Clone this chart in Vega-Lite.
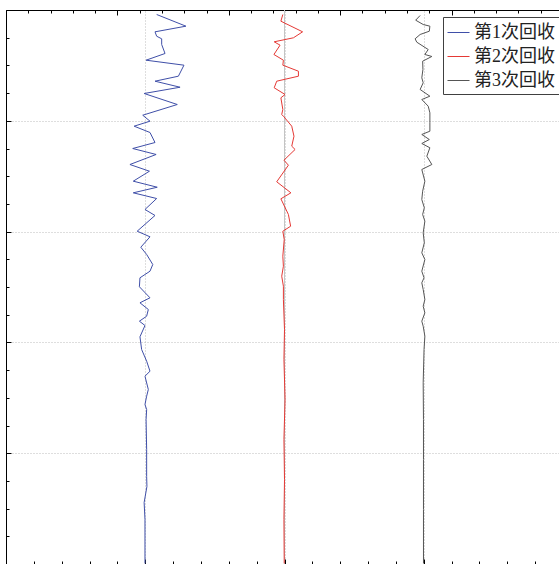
{
  "$schema": "https://vega.github.io/schema/vega-lite/v6.json",
  "autosize": {"type": "none"},
  "padding": {"left": 6, "top": 10, "right": 0, "bottom": 0},
  "width": 553,
  "height": 554,
  "background": "white",
  "view": {"stroke": null},
  "datasets": {
    "ref": [{"value": 10}],
    "traces": [
      {"series": "第1次回收", "depth": 0.81, "value": 5.41},
      {"series": "第1次回收", "depth": 2.92, "value": 6.46},
      {"series": "第1次回收", "depth": 3.94, "value": 5.35},
      {"series": "第1次回收", "depth": 4.73, "value": 5.41},
      {"series": "第1次回收", "depth": 5.20, "value": 5.59},
      {"series": "第1次回收", "depth": 6.23, "value": 5.59},
      {"series": "第1次回收", "depth": 7.85, "value": 5.71},
      {"series": "第1次回收", "depth": 9.06, "value": 5.03},
      {"series": "第1次回收", "depth": 9.96, "value": 6.39},
      {"series": "第1次回收", "depth": 11.95, "value": 6.19},
      {"series": "第1次回收", "depth": 12.85, "value": 5.35},
      {"series": "第1次回收", "depth": 13.94, "value": 6.25},
      {"series": "第1次回收", "depth": 15.07, "value": 4.96},
      {"series": "第1次回收", "depth": 17.06, "value": 6.15},
      {"series": "第1次回收", "depth": 18.99, "value": 4.91},
      {"series": "第1次回收", "depth": 20.07, "value": 5.17},
      {"series": "第1次回收", "depth": 20.97, "value": 4.60},
      {"series": "第1次回收", "depth": 22.11, "value": 5.17},
      {"series": "第1次回收", "depth": 23.92, "value": 5.35},
      {"series": "第1次回收", "depth": 25.00, "value": 4.55},
      {"series": "第1次回收", "depth": 26.08, "value": 5.39},
      {"series": "第1次回收", "depth": 27.89, "value": 4.45},
      {"series": "第1次回收", "depth": 29.10, "value": 5.15},
      {"series": "第1次回收", "depth": 30.90, "value": 4.57},
      {"series": "第1次回收", "depth": 31.99, "value": 5.43},
      {"series": "第1次回收", "depth": 33.00, "value": 4.57},
      {"series": "第1次回收", "depth": 34.03, "value": 5.41},
      {"series": "第1次回收", "depth": 36.01, "value": 4.99},
      {"series": "第1次回收", "depth": 37.09, "value": 5.35},
      {"series": "第1次回收", "depth": 39.93, "value": 4.71},
      {"series": "第1次回收", "depth": 40.94, "value": 5.17},
      {"series": "第1次回收", "depth": 42.82, "value": 4.84},
      {"series": "第1次回收", "depth": 44.13, "value": 5.05},
      {"series": "第1次回收", "depth": 45.94, "value": 5.27},
      {"series": "第1次回收", "depth": 47.15, "value": 5.17},
      {"series": "第1次回收", "depth": 48.34, "value": 4.81},
      {"series": "第1次回收", "depth": 49.96, "value": 4.79},
      {"series": "第1次回收", "depth": 51.95, "value": 5.17},
      {"series": "第1次回收", "depth": 52.85, "value": 4.81},
      {"series": "第1次回收", "depth": 54.06, "value": 5.11},
      {"series": "第1次回收", "depth": 55.27, "value": 5.05},
      {"series": "第1次回收", "depth": 56.17, "value": 4.79},
      {"series": "第1次回收", "depth": 56.95, "value": 4.99},
      {"series": "第1次回收", "depth": 58.99, "value": 4.81},
      {"series": "第1次回收", "depth": 61.28, "value": 4.87},
      {"series": "第1次回收", "depth": 63.39, "value": 5.05},
      {"series": "第1次回收", "depth": 65.20, "value": 5.17},
      {"series": "第1次回收", "depth": 66.10, "value": 4.99},
      {"series": "第1次回收", "depth": 68.50, "value": 5.11},
      {"series": "第1次回收", "depth": 69.71, "value": 5.05},
      {"series": "第1次回收", "depth": 71.21, "value": 4.99},
      {"series": "第1次回收", "depth": 72.11, "value": 5.05},
      {"series": "第1次回收", "depth": 73.92, "value": 5.03},
      {"series": "第1次回收", "depth": 79.33, "value": 5.05},
      {"series": "第1次回收", "depth": 84.21, "value": 5.05},
      {"series": "第1次回收", "depth": 86.01, "value": 5.06},
      {"series": "第1次回收", "depth": 88.90, "value": 4.96},
      {"series": "第1次回收", "depth": 91.97, "value": 4.99},
      {"series": "第1次回收", "depth": 99.91, "value": 4.99},
      {"series": "第2次回收", "depth": 0.81, "value": 9.94},
      {"series": "第2次回收", "depth": 2.02, "value": 9.87},
      {"series": "第2次回收", "depth": 3.94, "value": 10.65},
      {"series": "第2次回收", "depth": 5.02, "value": 10.32},
      {"series": "第2次回收", "depth": 5.74, "value": 9.63},
      {"series": "第2次回收", "depth": 6.35, "value": 9.84},
      {"series": "第2次回收", "depth": 8.03, "value": 9.62},
      {"series": "第2次回收", "depth": 9.06, "value": 9.96},
      {"series": "第2次回收", "depth": 9.96, "value": 9.94},
      {"series": "第2次回收", "depth": 11.05, "value": 10.50},
      {"series": "第2次回收", "depth": 11.95, "value": 10.50},
      {"series": "第2次回收", "depth": 12.85, "value": 9.72},
      {"series": "第2次回收", "depth": 14.04, "value": 9.63},
      {"series": "第2次回收", "depth": 15.25, "value": 10.02},
      {"series": "第2次回收", "depth": 15.85, "value": 9.87},
      {"series": "第2次回收", "depth": 17.96, "value": 9.94},
      {"series": "第2次回收", "depth": 18.86, "value": 9.90},
      {"series": "第2次回收", "depth": 19.28, "value": 9.98},
      {"series": "第2次回收", "depth": 20.97, "value": 10.26},
      {"series": "第2次回收", "depth": 22.78, "value": 10.34},
      {"series": "第2次回收", "depth": 24.58, "value": 10.26},
      {"series": "第2次回收", "depth": 25.18, "value": 10.38},
      {"series": "第2次回收", "depth": 27.11, "value": 9.98},
      {"series": "第2次回收", "depth": 28.01, "value": 10.14},
      {"series": "第2次回收", "depth": 31.01, "value": 9.72},
      {"series": "第2次回收", "depth": 33.00, "value": 10.23},
      {"series": "第2次回收", "depth": 34.08, "value": 9.87},
      {"series": "第2次回收", "depth": 36.91, "value": 10.14},
      {"series": "第2次回收", "depth": 39.03, "value": 10.22},
      {"series": "第2次回收", "depth": 39.93, "value": 9.94},
      {"series": "第2次回收", "depth": 41.43, "value": 9.99},
      {"series": "第2次回收", "depth": 44.44, "value": 9.94},
      {"series": "第2次回收", "depth": 46.25, "value": 9.96},
      {"series": "第2次回收", "depth": 48.05, "value": 9.90},
      {"series": "第2次回收", "depth": 49.86, "value": 9.96},
      {"series": "第2次回收", "depth": 52.26, "value": 9.96},
      {"series": "第2次回收", "depth": 57.67, "value": 10.00},
      {"series": "第2次回收", "depth": 63.09, "value": 9.98},
      {"series": "第2次回收", "depth": 70.31, "value": 10.02},
      {"series": "第2次回收", "depth": 77.53, "value": 9.98},
      {"series": "第2次回收", "depth": 84.75, "value": 10.00},
      {"series": "第2次回收", "depth": 91.97, "value": 9.98},
      {"series": "第2次回收", "depth": 99.91, "value": 9.99},
      {"series": "第3次回收", "depth": 0.99, "value": 14.87},
      {"series": "第3次回收", "depth": 1.84, "value": 14.71},
      {"series": "第3次回收", "depth": 2.62, "value": 14.98},
      {"series": "第3次回收", "depth": 2.92, "value": 15.22},
      {"series": "第3次回收", "depth": 3.83, "value": 15.20},
      {"series": "第3次回收", "depth": 4.42, "value": 14.87},
      {"series": "第3次回收", "depth": 5.20, "value": 14.69},
      {"series": "第3次回收", "depth": 5.81, "value": 14.75},
      {"series": "第3次回收", "depth": 7.13, "value": 15.16},
      {"series": "第3次回收", "depth": 8.03, "value": 15.04},
      {"series": "第3次回收", "depth": 8.39, "value": 15.29},
      {"series": "第3次回收", "depth": 9.24, "value": 14.96},
      {"series": "第3次回收", "depth": 10.74, "value": 14.97},
      {"series": "第3次回收", "depth": 12.24, "value": 14.93},
      {"series": "第3次回收", "depth": 13.14, "value": 14.98},
      {"series": "第3次回收", "depth": 14.35, "value": 14.87},
      {"series": "第3次回收", "depth": 15.56, "value": 15.22},
      {"series": "第3次回收", "depth": 16.16, "value": 14.93},
      {"series": "第3次回收", "depth": 17.36, "value": 15.16},
      {"series": "第3次回收", "depth": 18.56, "value": 15.22},
      {"series": "第3次回收", "depth": 20.36, "value": 15.22},
      {"series": "第3次回收", "depth": 21.88, "value": 15.22},
      {"series": "第3次回收", "depth": 22.47, "value": 14.93},
      {"series": "第3次回收", "depth": 23.38, "value": 15.20},
      {"series": "第3次回收", "depth": 24.10, "value": 14.93},
      {"series": "第3次回收", "depth": 24.87, "value": 15.22},
      {"series": "第3次回收", "depth": 26.39, "value": 15.11},
      {"series": "第3次回收", "depth": 27.89, "value": 15.29},
      {"series": "第3次回收", "depth": 28.79, "value": 14.93},
      {"series": "第3次回收", "depth": 30.90, "value": 15.04},
      {"series": "第3次回收", "depth": 32.71, "value": 14.96},
      {"series": "第3次回收", "depth": 34.21, "value": 14.93},
      {"series": "第3次回收", "depth": 35.70, "value": 15.02},
      {"series": "第3次回收", "depth": 36.91, "value": 14.96},
      {"series": "第3次回收", "depth": 38.12, "value": 15.04},
      {"series": "第3次回收", "depth": 40.22, "value": 14.98},
      {"series": "第3次回收", "depth": 42.02, "value": 15.02},
      {"series": "第3次回收", "depth": 43.83, "value": 14.93},
      {"series": "第3次回收", "depth": 45.04, "value": 15.04},
      {"series": "第3次回收", "depth": 47.15, "value": 14.93},
      {"series": "第3次回收", "depth": 48.34, "value": 15.01},
      {"series": "第3次回收", "depth": 49.24, "value": 14.93},
      {"series": "第3次回收", "depth": 50.45, "value": 14.98},
      {"series": "第3次回收", "depth": 52.26, "value": 15.04},
      {"series": "第3次回收", "depth": 53.47, "value": 14.98},
      {"series": "第3次回收", "depth": 54.66, "value": 15.04},
      {"series": "第3次回收", "depth": 56.17, "value": 14.93},
      {"series": "第3次回收", "depth": 57.08, "value": 14.98},
      {"series": "第3次回收", "depth": 58.88, "value": 15.04},
      {"series": "第3次回收", "depth": 61.28, "value": 15.01},
      {"series": "第3次回收", "depth": 67.29, "value": 14.98},
      {"series": "第3次回收", "depth": 73.92, "value": 14.99},
      {"series": "第3次回收", "depth": 81.14, "value": 14.99},
      {"series": "第3次回收", "depth": 90.16, "value": 14.99},
      {"series": "第3次回收", "depth": 99.91, "value": 14.99}
    ]
  },
  "resolve": {"axis": {"x": "independent"}},
  "layer": [
    {
      "data": {"name": "ref"},
      "mark": {"type": "rule", "color": "#c4c4c4", "strokeWidth": 1},
      "encoding": {
        "x": {
          "field": "value",
          "type": "quantitative",
          "scale": {"domain": [0, 19.856], "nice": false, "zero": false},
          "axis": {
            "orient": "top",
            "title": null,
            "labels": false,
            "grid": false,
            "domain": true,
            "domainColor": "#000000",
            "domainWidth": 1,
            "ticks": true,
            "tickColor": "#000000",
            "tickWidth": 1,
            "values": [0, 0.8, 1.6, 2.4, 3.2, 4, 4.8, 5.6, 6.4, 7.2, 8, 8.8, 9.6, 10.4, 11.2, 12, 12.8, 13.6, 14.4, 15.2, 16, 16.8, 17.6, 18.4, 19.2],
            "tickSize": {"condition": {"test": "abs(datum.value/4 - round(datum.value/4)) < 0.001", "value": -5}, "value": -3}
          }
        }
      }
    },
    {
      "data": {"name": "traces"},
      "mark": {"type": "line", "strokeWidth": 1, "interpolate": "linear"},
      "encoding": {
        "x": {
          "field": "value",
          "type": "quantitative",
          "scale": {"domain": [0, 19.856], "nice": false, "zero": false},
          "axis": {
            "orient": "bottom",
            "title": null,
            "labels": false,
            "domain": true,
            "domainColor": "#000000",
            "ticks": true,
            "tickColor": "#000000",
            "tickWidth": 1,
            "values": [0, 1, 2, 3, 4, 5, 6, 7, 8, 9, 10, 11, 12, 13, 14, 15, 16, 17, 18, 19],
            "tickSize": {"condition": {"test": "datum.value % 5 === 0", "value": -5}, "value": -3},
            "grid": true,
            "gridColor": "#bdbdbd",
            "gridDash": [1, 2],
            "gridWidth": 1,
            "gridOpacity": {"condition": {"test": "datum.value % 5 === 0 && datum.value > 0", "value": 1}, "value": 0}
          }
        },
        "y": {
          "field": "depth",
          "type": "quantitative",
          "scale": {"domain": [0, 100], "reverse": true, "nice": false, "zero": false},
          "axis": {
            "orient": "left",
            "title": null,
            "labels": false,
            "domain": true,
            "domainColor": "#000000",
            "ticks": true,
            "tickColor": "#000000",
            "tickWidth": 1,
            "values": [0, 5, 10, 15, 20, 25, 30, 35, 40, 45, 50, 55, 60, 65, 70, 75, 80, 85, 90, 95, 100],
            "tickSize": {"condition": {"test": "datum.value % 20 === 0", "value": -5}, "value": -3},
            "grid": true,
            "gridColor": "#bdbdbd",
            "gridDash": [1, 2],
            "gridWidth": 1,
            "gridOpacity": {"condition": {"test": "datum.value % 20 === 0 && datum.value > 0 && datum.value < 100", "value": 1}, "value": 0}
          }
        },
        "color": {
          "field": "series",
          "type": "nominal",
          "scale": {"domain": ["第1次回收", "第2次回收", "第3次回收"], "range": ["#3f4fa8", "#e53935", "#555555"]},
          "legend": {
            "title": null,
            "orient": "none",
            "legendX": 437,
            "legendY": 7,
            "symbolType": "stroke",
            "symbolSize": 484,
            "symbolStrokeWidth": 1,
            "labelFont": "Liberation Serif, Noto Sans CJK SC",
            "labelFontSize": 18,
            "labelColor": "#222222",
            "labelOffset": 4,
            "rowPadding": 3,
            "padding": 4,
            "strokeColor": "#404040",
            "fillColor": "#ffffff"
          }
        },
        "order": {"field": "depth", "type": "quantitative"}
      }
    }
  ]
}
